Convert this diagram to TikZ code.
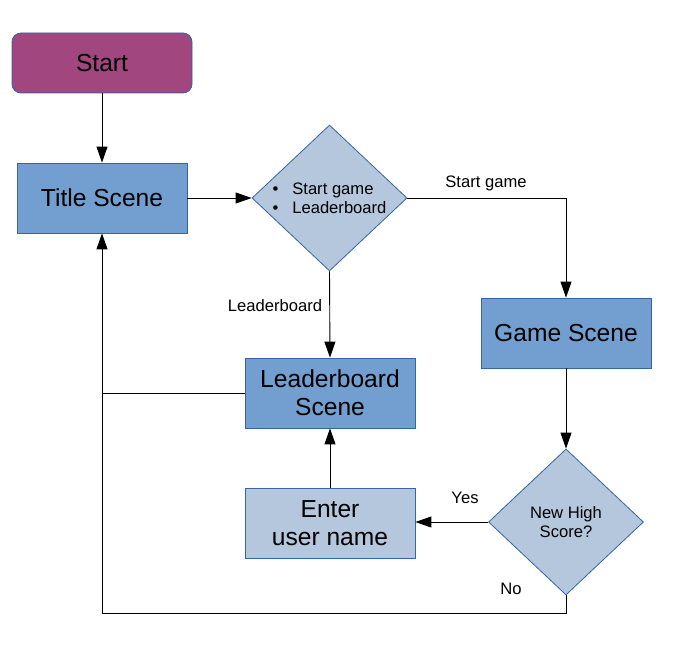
\documentclass[tikz,border=0pt]{standalone}
\usepackage{fontspec}
\setmainfont{Liberation Sans}
\usetikzlibrary{arrows.meta, shapes.geometric, positioning}

\definecolor{startfill}{HTML}{A1467E}
\definecolor{scenefill}{HTML}{729FCF}
\definecolor{lightfill}{HTML}{B4C7DC}
\definecolor{edgeblue}{HTML}{3465A4}

\begin{document}
\begin{tikzpicture}[x=1pt, y=-1pt,
    box/.style    = {draw=edgeblue, line width=0.8pt, minimum width=170pt,
                     minimum height=70pt, inner sep=0pt, align=center,
                     font=\fontsize{24.6}{28}\selectfont},
    startbox/.style = {box, fill=startfill, rounded corners=9pt,
                     minimum width=180pt, minimum height=60pt},
    scene/.style  = {box, fill=scenefill},
    inputbox/.style = {box, fill=lightfill},
    choice/.style = {draw=edgeblue, line width=0.8pt, fill=lightfill,
                     shape=diamond, aspect=1.06, inner sep=0pt,
                     minimum width=155pt, minimum height=146pt, align=left,
                     font=\fontsize{16.6}{19}\selectfont},
    arr/.style    = {draw, line width=0.9pt, -{Triangle[length=16pt,width=11pt]}},
    link/.style   = {draw, line width=0.9pt},
    lbl/.style    = {font=\fontsize{16.6}{19}\selectfont, inner sep=0pt}
  ]
  \useasboundingbox (0,0) rectangle (676,655);

  % nodes
  \node[startbox] (start) at (102,63) {Start};
  \node[scene] (title) at (102,198) {Title Scene};
  \node[choice] (menu) at (329.5,198)
    {\textbullet\hspace{14pt}Start game\\\textbullet\hspace{14pt}Leaderboard};
  \node[scene] (game) at (566,333) {Game Scene};
  \node[scene] (lbscene) at (330,393) {Leaderboard\\Scene};
  \node[inputbox] (entername) at (330,523) {Enter\\user name};
  \node[choice, align=center] (hiscore) at (566,522) {New High\\Score?};
  \coordinate (back) at (102,613);

  % connectors
  \draw[arr] (start) -- (title);
  \draw[arr] (title) -- (menu.west);
  \draw[arr] (menu.east) -| (game.north);
  \draw[arr] (menu.south) -- (lbscene.north);
  \draw[arr] (game) -- (hiscore.north);
  \draw[arr] (hiscore.west) -- (hiscore.west -| entername.east);
  \draw[arr] (entername) -- (lbscene);
  \draw[arr] (hiscore.south) |- (back) -- (title.south);
  \draw[link] (lbscene.west) -- (lbscene.west -| title.south);

  % labels
  \node[lbl] (lstart) at (486,183) {Start game};
  \node[lbl] (lleader) at (275,306) {Leaderboard};
  \node[lbl] (lyes) at (465,498) {Yes};
  \node[lbl] (lno) at (511,589) {No};
\end{tikzpicture}
\end{document}
